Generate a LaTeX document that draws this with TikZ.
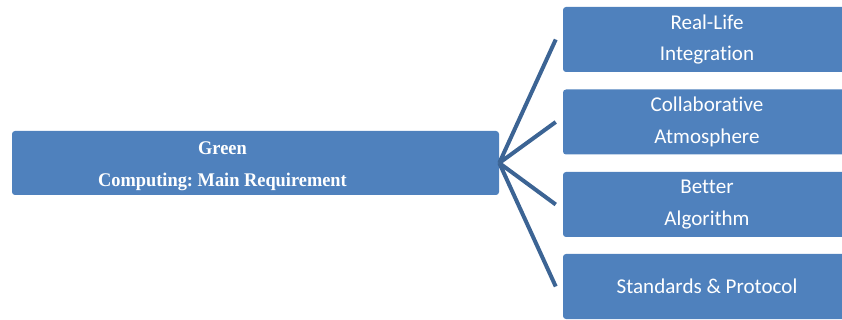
\documentclass[tikz,border=0pt]{standalone}
\usepackage{fontspec}
\setmainfont{Liberation Serif}
\newfontfamily\timesbold[FakeStretch=0.95]{Liberation Serif Bold}
\newfontfamily\calibri[RawFeature={-liga,-clig}]{Carlito}
\definecolor{boxblue}{HTML}{4F81BD}
\definecolor{linkblue}{HTML}{3C6494}
\tikzset{
	reqbox/.style={fill=boxblue, rounded corners=2.25pt, text=white, align=center, inner sep=0pt},
	branch/.style={draw=linkblue, line width=3pt}
}
\frenchspacing
\begin{document}
\begin{tikzpicture}[x=0.75pt,y=-0.75pt]
	\useasboundingbox (0,0) rectangle (842,320);
	% main requirement
	\node[reqbox, minimum width=365.25pt, minimum height=48pt,
		label={[text=white, align=center, font=\timesbold\fontsize{14.5}{24}\selectfont, xshift=-24.75pt, yshift=-2.5pt]center:{Green\\Computing: Main Requirement}}] (main) at (255.5,163) {};
	% the four points
	\begin{scope}[every node/.style={reqbox, minimum width=216pt, minimum height=48.75pt, font=\calibri\fontsize{15.8}{24}\selectfont}]
		\node (life) at (707,39.5) {Real-Life\\Integration};
		\node (collab) at (707,122) {Collaborative\\Atmosphere};
		\node (algo) at (707,204.5) {Better\\Algorithm};
		\node (proto) at (707,286.5) {Standards \& Protocol};
	\end{scope}
	\foreach \n in {life,collab,algo,proto}
		\coordinate (\n-end) at ([xshift=-5.25pt]\n.west);
	\draw[branch] (main.east) -- (life-end) (main.east) -- (collab-end) (main.east) -- (algo-end) (main.east) -- (proto-end);
\end{tikzpicture}
\end{document}
